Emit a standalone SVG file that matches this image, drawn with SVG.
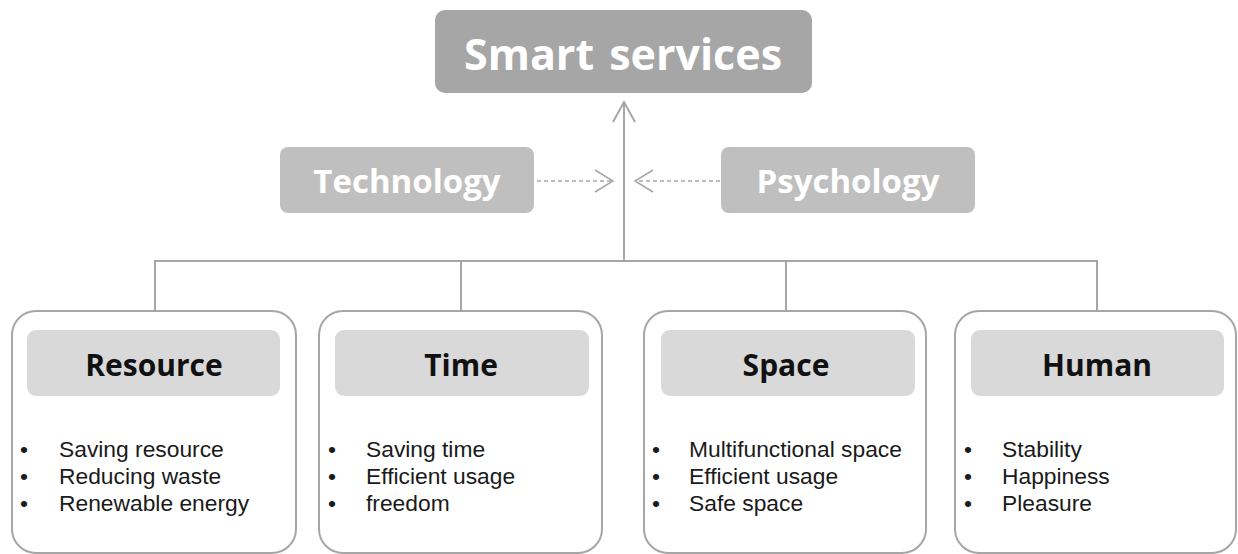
<svg xmlns="http://www.w3.org/2000/svg" width="1238" height="554" viewBox="0 0 1238 554">
<style>
.line{fill:none;stroke:#a6a6a6;stroke-width:2}
.dash{fill:none;stroke:#a6a6a6;stroke-width:1.5;stroke-dasharray:4 3}
.head{fill:none;stroke:#a6a6a6;stroke-width:1.5}
.card{fill:#ffffff;stroke:#a6a6a6;stroke-width:2}
.hdr{fill:#d9d9d9}
.title{font-family:"Open Sans","Noto Sans",sans-serif;font-weight:bold;fill:#ffffff;text-anchor:middle}
.htxt{font-family:"Open Sans","Noto Sans",sans-serif;font-weight:bold;font-size:30px;fill:#111111;text-anchor:middle}
.item{font-family:"Liberation Sans",Arial,sans-serif;font-size:22.8px;fill:#1a1a1a}
</style>
<rect width="1238" height="554" fill="#ffffff"/>
<g id="connectors">
<path class="line" d="M624 261 V102"/>
<path class="line" d="M613 122 L624 102 L635 122"/>
<path class="line" d="M155 311 V261 H1097 V311"/>
<path class="line" d="M461 261 V311"/>
<path class="line" d="M786 261 V311"/>
<path class="dash" d="M537 181 H612"/>
<path class="head" d="M595 170 L613 181 L595 192"/>
<path class="dash" d="M720 181 H636"/>
<path class="head" d="M653 170 L635 181 L653 192"/>
</g>
<g id="smart-services">
<rect x="435" y="10" width="377" height="83" rx="10" fill="#a6a6a6"/>
<text class="title" x="623" y="70" font-size="43" word-spacing="4">Smart services</text>
</g>
<g id="technology">
<rect x="280" y="147" width="254" height="66" rx="8" fill="#bfbfbf"/>
<text class="title" x="407" y="193" font-size="33">Technology</text>
</g>
<g id="psychology">
<rect x="721" y="147" width="254" height="66" rx="8" fill="#bfbfbf"/>
<text class="title" x="848" y="193" font-size="33">Psychology</text>
</g>
<g id="resource">
<rect class="card" x="12" y="311" width="284" height="242" rx="24"/>
<rect class="hdr" x="27" y="330" width="253" height="66" rx="9"/>
<text class="htxt" x="154" y="376">Resource</text>
<text class="item" y="457"><tspan x="20">•</tspan><tspan x="59">Saving resource</tspan></text>
<text class="item" y="484"><tspan x="20">•</tspan><tspan x="59">Reducing waste</tspan></text>
<text class="item" y="511"><tspan x="20">•</tspan><tspan x="59">Renewable energy</tspan></text>
</g>
<g id="time">
<rect class="card" x="319" y="311" width="283" height="242" rx="24"/>
<rect class="hdr" x="335" y="330" width="254" height="66" rx="9"/>
<text class="htxt" x="461" y="376">Time</text>
<text class="item" y="457"><tspan x="328">•</tspan><tspan x="366">Saving time</tspan></text>
<text class="item" y="484"><tspan x="328">•</tspan><tspan x="366">Efficient usage</tspan></text>
<text class="item" y="511"><tspan x="328">•</tspan><tspan x="366">freedom</tspan></text>
</g>
<g id="space">
<rect class="card" x="644" y="311" width="282" height="242" rx="24"/>
<rect class="hdr" x="661" y="330" width="254" height="66" rx="9"/>
<text class="htxt" x="786" y="376">Space</text>
<text class="item" y="457"><tspan x="652">•</tspan><tspan x="689">Multifunctional space</tspan></text>
<text class="item" y="484"><tspan x="652">•</tspan><tspan x="689">Efficient usage</tspan></text>
<text class="item" y="511"><tspan x="652">•</tspan><tspan x="689">Safe space</tspan></text>
</g>
<g id="human">
<rect class="card" x="955" y="311" width="281" height="242" rx="24"/>
<rect class="hdr" x="971" y="330" width="253" height="66" rx="9"/>
<text class="htxt" x="1097" y="376">Human</text>
<text class="item" y="457"><tspan x="964">•</tspan><tspan x="1002">Stability</tspan></text>
<text class="item" y="484"><tspan x="964">•</tspan><tspan x="1002">Happiness</tspan></text>
<text class="item" y="511"><tspan x="964">•</tspan><tspan x="1002">Pleasure</tspan></text>
</g>
</svg>
